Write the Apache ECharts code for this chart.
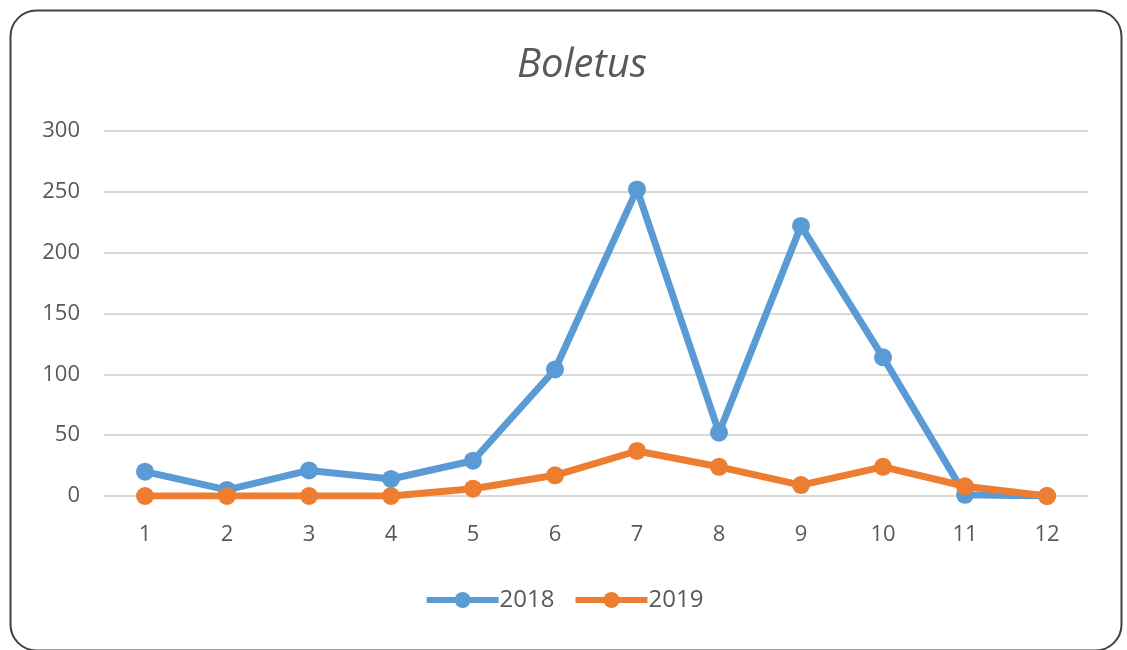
<!DOCTYPE html>
<html><head><meta charset="utf-8">
<script src="https://cdn.jsdelivr.net/npm/echarts@6/dist/echarts.min.js"></script>
<style>html,body{margin:0;padding:0;background:#fff}#c{width:1127px;height:650px}</style>
</head><body><div id="c"></div>
<script>
var categories = ['1','2','3','4','5','6','7','8','9','10','11','12'];
var s2018 = [20, 5, 21, 14, 29, 104, 252, 52, 222, 114, 1, 0];
var s2019 = [0, 0, 0, 0, 6, 17, 37, 24, 9, 24, 8, 0];
var yTicks = [0, 50, 100, 150, 200, 250, 300];

var chart = echarts.init(document.getElementById('c'));
var font = '"Open Sans", "Noto Sans", sans-serif';
chart.setOption({
  animation: false,
  backgroundColor: '#fff',
  graphic: [{
    type: 'rect', left: 8, top: 8,
    shape: { width: 1111, height: 640, r: 26 },
    style: { fill: 'none', stroke: '#404040', lineWidth: 2 }
  }],
  title: {
    text: 'Boletus', left: 577, textAlign: 'center', top: 41,
    textStyle: { fontFamily: font, fontStyle: 'italic', fontWeight: 'normal', fontSize: 40, color: '#595959' }
  },
  legend: {
    bottom: 33, left: 'center', itemWidth: 72, itemHeight: 20, itemGap: 18,
    lineStyle: { width: 6 },
    textStyle: { fontFamily: font, fontSize: 24, color: '#595959', padding: [0,0,0,-4] },
    data: ['2018', '2019']
  },
  grid: { left: 104, right: 39, top: 131, bottom: 154 },
  xAxis: {
    type: 'category', data: categories, boundaryGap: true,
    axisLine: { show: false }, axisTick: { show: false },
    axisLabel: { fontFamily: font, fontSize: 22, color: '#595959', margin: 28 }
  },
  yAxis: {
    type: 'value', min: yTicks[0], max: yTicks[yTicks.length - 1], interval: 50,
    axisLine: { show: false }, axisTick: { show: false },
    axisLabel: { fontFamily: font, fontSize: 22, color: '#595959', margin: 24 },
    splitLine: { lineStyle: { color: '#d9d9d9', width: 2 } }
  },
  series: [
    { name: '2018', type: 'line', data: s2018, symbol: 'circle', symbolSize: 18,
      itemStyle: { color: '#5B9BD5' }, lineStyle: { width: 7, color: '#5B9BD5' } },
    { name: '2019', type: 'line', data: s2019, symbol: 'circle', symbolSize: 18,
      itemStyle: { color: '#ED7D31' }, lineStyle: { width: 7, color: '#ED7D31' } }
  ]
});
</script></body></html>
